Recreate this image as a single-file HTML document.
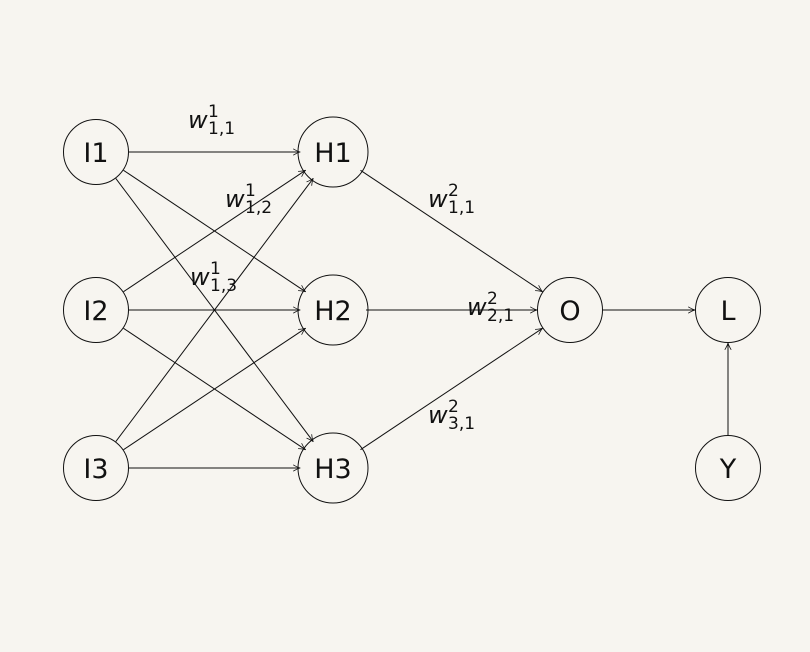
<!DOCTYPE html>
<html><head><meta charset="utf-8"><style>
html,body{margin:0;padding:0;background:#f7f5f0;}
svg{display:block}
text{font-family:"DejaVu Sans","Liberation Sans",sans-serif;fill:#111}
</style></head><body>
<svg width="810" height="652" viewBox="0 0 810 652" xmlns="http://www.w3.org/2000/svg">
<defs>
<marker id="a" viewBox="0 0 10 10" refX="9.5" refY="5" markerWidth="8" markerHeight="8" orient="auto" markerUnits="userSpaceOnUse">
<path d="M1,1 Q6,4 9.5,5 Q6,6 1,9" fill="none" stroke="#111" stroke-width="1"/>
</marker>
</defs>
<rect width="810" height="652" fill="#f7f5f0"/>
<g stroke="#111" stroke-width="1" fill="none" marker-end="url(#a)">
<line x1="129" y1="152" x2="300" y2="152"/>
<line x1="123.5" y1="170.3" x2="305.5" y2="291.7"/>
<line x1="115.8" y1="178.4" x2="313.2" y2="441.6"/>
<line x1="123.5" y1="291.7" x2="305.5" y2="170.3"/>
<line x1="129" y1="310" x2="300" y2="310"/>
<line x1="123.5" y1="328.3" x2="305.5" y2="449.7"/>
<line x1="115.8" y1="441.6" x2="313.2" y2="178.4"/>
<line x1="123.5" y1="449.7" x2="305.5" y2="328.3"/>
<line x1="129" y1="468" x2="300" y2="468"/>
<line x1="360.5" y1="170.3" x2="542.5" y2="291.7"/>
<line x1="366" y1="310" x2="537" y2="310"/>
<line x1="360.5" y1="449.7" x2="542.5" y2="328.3"/>
<line x1="603" y1="310" x2="695" y2="310"/>
<line x1="728" y1="435" x2="728" y2="343"/>
</g>
<g stroke="#111" stroke-width="1" fill="none">
<circle cx="96" cy="152" r="32.5"/>
<circle cx="96" cy="310" r="32.5"/>
<circle cx="96" cy="468" r="32.5"/>
<circle cx="333" cy="152" r="35"/>
<circle cx="333" cy="310" r="35"/>
<circle cx="333" cy="468" r="35"/>
<circle cx="570" cy="310" r="32.5"/>
<circle cx="728" cy="310" r="32.5"/>
<circle cx="728" cy="468" r="32.5"/>
</g>
<g font-size="27" text-anchor="middle">
<text x="96" y="162">I1</text>
<text x="96" y="320">I2</text>
<text x="96" y="478">I3</text>
<text x="333" y="162">H1</text>
<text x="333" y="320">H2</text>
<text x="333" y="478">H3</text>
<text x="570" y="320">O</text>
<text x="728" y="320">L</text>
<text x="728" y="478">Y</text>
</g>
<g font-size="24">
<text x="188" y="128" font-style="italic">w</text><text x="208" y="117" font-size="17">1</text><text x="208" y="134" font-size="17">1,1</text>
<text x="225" y="207" font-style="italic">w</text><text x="245" y="196" font-size="17">1</text><text x="245" y="213" font-size="17">1,2</text>
<text x="190" y="285" font-style="italic">w</text><text x="210" y="274" font-size="17">1</text><text x="210" y="291" font-size="17">1,3</text>
<text x="428" y="207" font-style="italic">w</text><text x="448" y="196" font-size="17">2</text><text x="448" y="213" font-size="17">1,1</text>
<text x="467" y="315" font-style="italic">w</text><text x="487" y="304" font-size="17">2</text><text x="487" y="321" font-size="17">2,1</text>
<text x="428" y="423" font-style="italic">w</text><text x="448" y="412" font-size="17">2</text><text x="448" y="429" font-size="17">3,1</text>
</g>
</svg>
</body></html>
